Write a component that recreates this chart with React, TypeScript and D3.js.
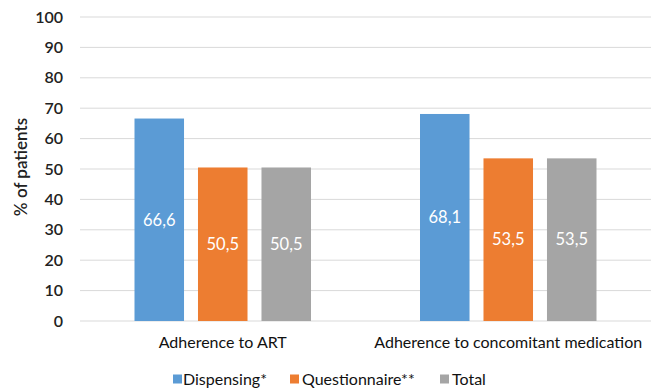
import React from "react";
import * as d3 from "d3";

const categories = ["Adherence to ART", "Adherence to concomitant medication"];
const seriesNames = ["Dispensing*", "Questionnaire**", "Total"];
const dispensing = [66.6, 68.1];
const questionnaire = [50.5, 53.5];
const total = [50.5, 53.5];
const yTicks = [0, 10, 20, 30, 40, 50, 60, 70, 80, 90, 100];
const colors = ["#5B9BD5", "#ED7D31", "#A5A5A5"];

const W = 656;
const H = 389;
const left = 80;
const right = 651;
const top = 17;
const bottom = 321;
const FONT = "Lato, 'Open Sans', sans-serif";

export default function App() {
  const values = [dispensing, questionnaire, total];
  const x0 = d3.scaleBand<string>().domain(categories).range([left, right]).padding(0);
  const groupW = 176.5;
  const x1 = d3
    .scaleBand<string>()
    .domain(seriesNames)
    .range([0, groupW])
    .paddingInner(0.22)
    .paddingOuter(0);
  const y = d3.scaleLinear().domain([0, 100]).range([bottom, top]);
  const fmt = (v: number) => v.toFixed(1).replace(".", ",");

  const legendItems = [
    { name: seriesNames[0], x: 173, tx: 183 },
    { name: seriesNames[1], x: 290, tx: 302 },
    { name: seriesNames[2], x: 440, tx: 452 },
  ];

  return (
    <svg
      width={W}
      height={H}
      style={{ position: "absolute", left: 0, top: 0, background: "#fff" }}
      fontFamily={FONT}
    >
      {yTicks.map((t) => (
        <g key={t}>
          <line x1={left} x2={right} y1={y(t)} y2={y(t)} stroke="#D9D9D9" strokeWidth={1} />
          <text
            x={63}
            y={y(t)}
            dy="0.35em"
            textAnchor="end"
            fontSize={16}
            fill="#222"
            fontWeight={600}
          >
            {t}
          </text>
        </g>
      ))}
      <text
        transform={`translate(21,${167}) rotate(-90)`}
        textAnchor="middle"
        dy="0.35em"
        fontSize={17}
        fill="#222"
        fontWeight={600}
      >
        % of patients
      </text>
      {categories.map((c, ci) => {
        const gx = (x0(c) as number) + (x0.bandwidth() - groupW) / 2;
        return (
          <g key={c}>
            {seriesNames.map((s, si) => {
              const v = values[si][ci];
              const bx = gx + (x1(s) as number);
              const bw = x1.bandwidth();
              return (
                <g key={s}>
                  <rect x={bx} y={y(v)} width={bw} height={y(0) - y(v)} fill={colors[si]} />
                  <text
                    x={bx + bw / 2}
                    y={(y(v) + y(0)) / 2}
                    dy="0.35em"
                    textAnchor="middle"
                    fontSize={16.5}
                    fill="#fff"
                  >
                    {fmt(v)}
                  </text>
                </g>
              );
            })}
            <text
              x={(x0(c) as number) + x0.bandwidth() / 2}
              y={342}
              dy="0.35em"
              textAnchor="middle"
              fontSize={16}
              fill="#111"
            >
              {c}
            </text>
          </g>
        );
      })}
      {legendItems.map((l, i) => (
        <g key={l.name}>
          <rect x={l.x} y={374.5} width={9} height={9} fill={colors[i]} />
          <text x={l.tx} y={379} dy="0.35em" fontSize={16} fill="#111">
            {l.name}
          </text>
        </g>
      ))}
    </svg>
  );
}
